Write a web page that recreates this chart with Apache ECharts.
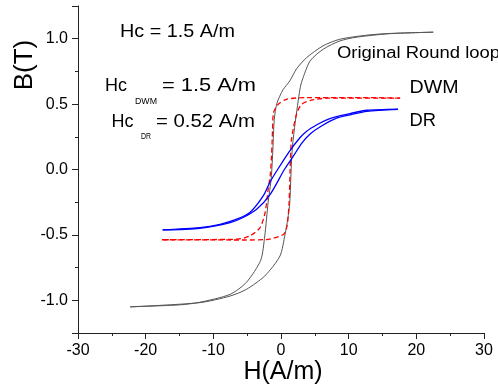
<!DOCTYPE html>
<html>
<head>
<meta charset="utf-8">
<script src="https://cdn.jsdelivr.net/npm/echarts@6/dist/echarts.min.js"></script>
<style>
html,body{margin:0;padding:0;background:#fff;}
#chart{width:498px;height:388px;}
</style>
</head>
<body>
<div id="chart"></div>
<script>
// H (A/m), B (T) pairs
var roundDesc = [[22.5,1.05],[16.0,1.04],[12.7,1.027],[8.7,0.996],[6.2,0.945],[3.8,0.856],[2.3,0.77],[1.3,0.677],[0.3,0.61],[-0.6,0.507],[-1.0,0.38],[-1.2,0.155],[-1.45,-0.07],[-1.9,-0.25],[-2.4,-0.508],[-3.0,-0.694],[-5.1,-0.862],[-7.5,-0.954],[-12.0,-1.015],[-15.0,-1.035],[-22.3,-1.05]];
var roundAsc = [[-22.3,-1.05],[-12.0,-1.018],[-7.5,-0.967],[-5.1,-0.916],[-2.4,-0.814],[-0.15,-0.661],[0.6,-0.495],[1.0,-0.38],[1.3,-0.25],[1.5,0.0],[1.7,0.18],[2.1,0.36],[2.8,0.614],[3.1,0.677],[4.3,0.83],[6.25,0.92],[8.7,0.983],[11.1,1.011],[16.0,1.038],[22.5,1.05]];
var dwmDesc = [[17.6,0.545],[13.0,0.55],[3.8,0.55],[0.8,0.537],[-0.4,0.499],[-1.1,0.436],[-1.25,0.3],[-1.4,0.1],[-1.6,-0.05],[-1.9,-0.15],[-2.35,-0.33],[-3.1,-0.444],[-4.6,-0.508],[-6.5,-0.533],[-17.6,-0.537]];
var dwmAsc = [[-17.6,-0.537],[-5.6,-0.539],[-2.1,-0.535],[0.35,-0.497],[0.9,-0.43],[1.2,-0.25],[1.35,0.0],[1.55,0.23],[2.3,0.423],[3.05,0.499],[4.5,0.53],[6.75,0.545],[17.6,0.545]];
var drDesc = [[17.3,0.462],[12.7,0.453],[10.2,0.428],[8.2,0.405],[6.75,0.38],[5.3,0.342],[3.8,0.293],[2.8,0.243],[1.3,0.143],[-0.5,0.0],[-1.6,-0.094],[-2.6,-0.2],[-4.6,-0.329],[-6.55,-0.38],[-9.0,-0.419],[-12.0,-0.444],[-17.5,-0.462]];
var drAsc = [[-17.5,-0.462],[-12.0,-0.449],[-7.5,-0.406],[-5.6,-0.367],[-3.6,-0.304],[-1.6,-0.19],[0.5,0.0],[1.8,0.1],[3.05,0.2],[4.3,0.272],[5.75,0.325],[8.2,0.392],[10.2,0.418],[12.7,0.445],[17.3,0.459]];

var xName = 'H(A/m)';
var yName = 'B(T)';

var FONT = '"Liberation Sans", Arial, sans-serif';
var chart = echarts.init(document.getElementById('chart'), null, {renderer: 'canvas'});

var mctx = document.createElement('canvas').getContext('2d');
function measure(s, size) {
  mctx.font = size + 'px ' + FONT;
  return mctx.measureText(s).width;
}

function lineSeries(data, color, width, type) {
  return {
    type: 'line', data: data, showSymbol: false, smooth: 0.25,
    lineStyle: {color: color, width: width, type: type},
    silent: true, animation: false
  };
}

// text placed from x0 to x1 (stretched horizontally like the reference)
function txt(x0, x1, y, s, size) {
  var w = measure(s, size);
  return {
    type: 'text', x: x0, y: y, scaleX: (x1 - x0) / w, scaleY: 1, silent: true,
    style: {text: s, fill: '#000', font: size + 'px ' + FONT, textAlign: 'left', textVerticalAlign: 'middle'}
  };
}

var axisCommon = {
  type: 'value',
  axisLine: {show: true, onZero: false, lineStyle: {color: '#222', width: 1}},
  axisTick: {show: true, inside: false, length: 6, lineStyle: {color: '#222'}},
  minorTick: {show: true, splitNumber: 2, length: 3, lineStyle: {color: '#222'}},
  splitLine: {show: false},
  minorSplitLine: {show: false}
};

chart.setOption({
  animation: false,
  backgroundColor: '#fff',
  grid: {left: 78, right: 14, top: 6, bottom: 55},
  xAxis: Object.assign({}, axisCommon, {
    min: -30, max: 30, interval: 10,
    axisLabel: {fontSize: 16, color: '#000', fontFamily: FONT, margin: 10}
  }),
  yAxis: Object.assign({}, axisCommon, {
    min: -1.25, max: 1.25, splitNumber: 5,
    axisLabel: {
      fontSize: 16, color: '#000', fontFamily: FONT, margin: 10,
      showMinLabel: false, showMaxLabel: false,
      formatter: function (v) {
        return Math.abs(v * 2 - Math.round(v * 2)) < 1e-6 ? v.toFixed(1) : '';
      }
    }
  }),
  series: [
    lineSeries(roundDesc, '#555', 1, 'solid'),
    lineSeries(roundAsc, '#555', 1, 'solid'),
    lineSeries(dwmDesc, '#ff0000', 1.3, [5, 3]),
    lineSeries(dwmAsc, '#ff0000', 1.3, [5, 3]),
    lineSeries(drDesc, '#0000ff', 1.3, 'solid'),
    lineSeries(drAsc, '#0000ff', 1.3, 'solid')
  ],
  graphic: [
    txt(120, 235, 32, 'Hc = 1.5 A/m', 18),
    txt(105, 127, 86.5, 'Hc', 18),
    txt(135, 157, 101.5, 'DWM', 9),
    txt(162, 256, 86.5, '= 1.5 A/m', 18),
    txt(111.5, 133.5, 122.5, 'Hc', 18),
    txt(141, 151, 137, 'DR', 9),
    txt(156, 255, 122.5, '= 0.52 A/m', 18),
    txt(337, 500, 54, 'Original Round loop', 16),
    txt(409.5, 458.5, 88, 'DWM', 18),
    txt(409.5, 436, 121, 'DR', 18),
    {type: 'text', x: 283, y: 372, silent: true,
     style: {text: xName, fill: '#000', font: '25px ' + FONT, textAlign: 'center', textVerticalAlign: 'middle'}},
    {type: 'text', x: 25, y: 65, rotation: Math.PI / 2, silent: true,
     style: {text: yName, fill: '#000', font: '26px ' + FONT, textAlign: 'center', textVerticalAlign: 'middle'}}
  ]
});
</script>
</body>
</html>
